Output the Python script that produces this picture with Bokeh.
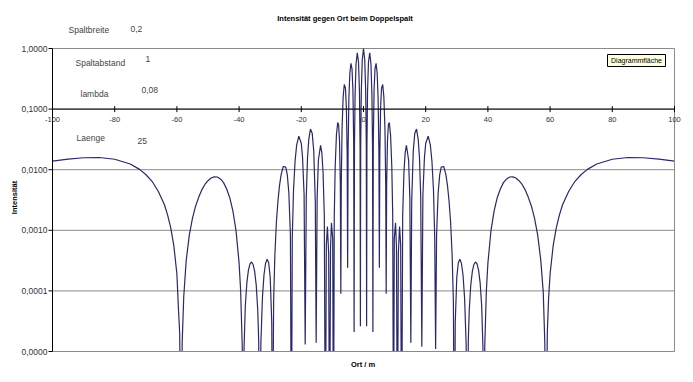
from math import pi
from bokeh.plotting import figure
from bokeh.models import Range1d
from bokeh.core.properties import value
from bokeh.embed import file_html
from bokeh.resources import INLINE

# ---- data (Ort / m, Intensität) ----
ort_links = [
    -100, -95, -90, -85, -80, -75, -72, -70, -68, -66,
    -64, -63, -62, -61, -60, -59.5, -59.1, -58.69, -58.3, -57.8,
    -57, -56, -55, -54, -53, -52, -51, -50, -49, -48,
    -47, -46, -45, -44, -43, -42, -41, -40, -39.5, -39,
    -38.7, -38.4, -38, -37.5, -37, -36.5, -36, -35.5, -35, -34.5,
    -34, -33.7, -33.33, -33, -32.5, -32, -31.5, -31, -30.5, -30,
    -29.5, -29.23, -28.9, -28.5, -28, -27.5, -27, -26.5, -25.8, -25,
    -24.5, -24, -23.5, -23.19, -22.9, -22.5, -22, -21.5, -20.8, -20,
    -19.6, -19.1, -18.75, -18.4, -18, -17.6, -17.05, -16.5, -16, -15.5,
    -15.22, -14.9, -14.5, -13.8, -13.4, -13, -12.6, -12.25, -11.95, -11.6,
    -11.2, -10.91, -10.6, -10.3, -9.9, -9.65, -9.4, -9.1, -8.7, -8.3,
    -8, -7.7, -7.45, -7.29, -7.15, -6.9, -6.55, -6.18, -5.8, -5.5,
    -5.25, -5.1, -4.95, -4.7, -4.4, -4.05, -3.7, -3.4, -3.15, -3.02,
    -2.9, -2.7, -2.4, -2, -1.6, -1.3, -1.1, -1, -0.9, -0.7,
    -0.4,
]
int_links = [
    0.0139, 0.01497, 0.01576, 0.0159, 0.01488, 0.01244, 0.01012, 0.00833, 0.00644, 0.0044,
    0.00264, 0.0018, 0.00111, 0.000565, 0.00019, 5e-5, 2e-5, 1e-7, 1.4e-5, 8e-5,
    0.000322, 0.00084, 0.00157, 0.0025, 0.0035, 0.00464, 0.0057, 0.00659, 0.0073, 0.00762,
    0.00758, 0.00703, 0.00612, 0.00481, 0.00345, 0.00209, 0.001, 0.000287, 0.0001, 1.27e-5,
    1e-7, 1.2e-5, 5.7e-5, 0.000137, 0.00022, 0.00028, 0.0003, 0.000273, 0.00021, 0.000126,
    4.8e-5, 1.5e-5, 1e-7, 1.35e-5, 7.7e-5, 0.000183, 0.000283, 0.000333, 0.000294, 0.000169,
    3e-5, 1e-7, 6.7e-5, 0.000388, 0.00138, 0.00308, 0.00552, 0.00823, 0.0113, 0.011,
    0.00823, 0.00413, 0.00084, 1e-7, 0.000755, 0.00468, 0.01388, 0.02537, 0.0358, 0.0271,
    0.016, 0.0039, 1.3e-5, 0.00354, 0.0158, 0.0314, 0.0468, 0.0401, 0.0204, 0.003,
    1.4e-5, 0.0035, 0.01444, 0.0253, 0.0192, 0.009, 0.00175, 1e-7, 0.000577, 0.00115,
    0.000413, 1e-7, 0.00052, 0.00133, 0.00073, 1e-7, 0.00171, 0.0113, 0.0376, 0.06,
    0.055, 0.029, 0.0058, 9e-5, 0.0056, 0.0472, 0.1576, 0.255, 0.2212, 0.1051,
    0.0183, 0.00024, 0.0211, 0.1497, 0.3876, 0.57, 0.4668, 0.2067, 0.0271, 2.1e-5,
    0.0259, 0.175, 0.555, 0.85, 0.597, 0.1926, 0.0234, 2.6e-5, 0.0238, 0.2025,
    0.651,
]
ort_rechts = [
    0, 0.4, 0.7, 0.9, 1.0, 1.1, 1.3, 1.6, 2.0, 2.4,
    2.7, 2.9, 3.02, 3.15, 3.4, 3.7, 4.05, 4.4, 4.7, 4.95,
    5.1, 5.25, 5.5, 5.8, 6.18, 6.55, 6.9, 7.15, 7.29, 7.45,
    7.7, 8.0, 8.3, 8.7, 9.1, 9.4, 9.65, 9.9, 10.3, 10.6,
    10.91, 11.2, 11.6, 11.95, 12.25, 12.6, 13.0, 13.4, 13.8, 14.5,
    14.9, 15.22, 15.5, 16.0, 16.5, 17.05, 17.6, 18.0, 18.4, 18.75,
    19.1, 19.6, 20.0, 20.8, 21.5, 22.0, 22.5, 22.9, 23.19, 23.5,
    24.0, 24.5, 25.0, 25.8, 26.5, 27.0, 27.5, 28.0, 28.5, 28.9,
    29.23, 29.5, 30.0, 30.5, 31.0, 31.5, 32.0, 32.5, 33.0, 33.33,
    33.7, 34.0, 34.5, 35.0, 35.5, 36.0, 36.5, 37.0, 37.5, 38.0,
    38.4, 38.7, 39.0, 39.5, 40.0, 41.0, 42.0, 43.0, 44.0, 45.0,
    46.0, 47.0, 48.0, 49.0, 50.0, 51.0, 52.0, 53.0, 54.0, 55.0,
    56.0, 57.0, 57.8, 58.3, 58.69, 59.1, 59.5, 60.0, 61.0, 62.0,
    63.0, 64.0, 66.0, 68.0, 70.0, 72.0, 75.0, 80.0, 85.0, 90.0,
    95.0, 100.0,
]
int_rechts = [
    1.0, 0.651, 0.2025, 0.0238, 2.6e-5, 0.0234, 0.1926, 0.597, 0.85, 0.555,
    0.175, 0.0259, 2.1e-5, 0.0271, 0.2067, 0.4668, 0.57, 0.3876, 0.1497, 0.0211,
    0.00024, 0.0183, 0.1051, 0.2212, 0.255, 0.1576, 0.0472, 0.0056, 9e-5, 0.0058,
    0.029, 0.055, 0.06, 0.0376, 0.0113, 0.00171, 1e-7, 0.00073, 0.00133, 0.00052,
    1e-7, 0.000413, 0.00115, 0.000577, 1e-7, 0.00175, 0.009, 0.0192, 0.0253, 0.01444,
    0.0035, 1.4e-5, 0.003, 0.0204, 0.0401, 0.0468, 0.0314, 0.0158, 0.00354, 1.2e-5,
    0.0039, 0.016, 0.0271, 0.0358, 0.02537, 0.01388, 0.00468, 0.000755, 1.1e-5, 0.00084,
    0.00413, 0.00823, 0.011, 0.0113, 0.00823, 0.00552, 0.00308, 0.00138, 0.000388, 6.7e-5,
    1e-7, 3e-5, 0.000169, 0.000294, 0.000333, 0.000283, 0.000183, 7.7e-5, 1.35e-5, 1e-7,
    1.5e-5, 4.8e-5, 0.000126, 0.00021, 0.000273, 0.0003, 0.00028, 0.00022, 0.000137, 5.7e-5,
    1.2e-5, 1e-7, 1.27e-5, 0.0001, 0.000287, 0.001, 0.00209, 0.00345, 0.00481, 0.00612,
    0.00703, 0.00758, 0.00762, 0.0073, 0.00659, 0.0057, 0.00464, 0.0035, 0.0025, 0.00157,
    0.00084, 0.000322, 9.5e-5, 1.4e-5, 1e-7, 2e-5, 7.2e-5, 0.00019, 0.000565, 0.00111,
    0.0018, 0.00264, 0.0044, 0.00644, 0.00833, 0.01012, 0.01244, 0.01488, 0.0159, 0.01576,
    0.01497, 0.0139,
]

y_ticks = [1e-5, 1e-4, 1e-3, 1e-2, 1e-1, 1.0]
y_tick_labels = ["0,0000", "0,0001", "0,0010", "0,0100", "0,1000", "1,0000"]
x_ticks = [-100, -80, -60, -40, -20, 0, 20, 40, 60, 80, 100]
x_tick_labels = ["-100", "-80", "-60", "-40", "-20", "0", "20", "40", "60", "80", "100"]
x_min, x_max = -100, 100
y_min, y_max = 1e-5, 1.0
x_achse_bei = 0.1

parameter_namen = ["Spaltbreite", "Spaltabstand", "lambda", "Laenge"]
parameter_werte = ["0,2", "1", "0,08", "25"]

titel = "Intensität gegen Ort beim Doppelspalt"
x_titel = "Ort / m"
y_titel = "Intensität"

FONT = value("Liberation Sans")
W, H = 685, 374

# picture-pixel -> data helpers (plot area spans x 52..674, y 48..351 in picture pixels)
def x_px(xw):
    return x_min + (xw - 52) * (x_max - x_min) / 622.0

def y_px(yw):
    return 10 ** (-(yw - 48) * 5.0 / 303.0)

# whole canvas is the frame; the plot area is drawn inside it
p = figure(width=W, height=H,
           x_range=Range1d(x_px(0), x_px(W)),
           y_range=Range1d(y_px(H), y_px(0)),
           y_axis_type="log", x_axis_location=None, y_axis_location=None,
           output_backend="svg", toolbar_location=None, min_border=0)
p.background_fill_color = "white"
p.border_fill_color = "white"
p.outline_line_color = None
p.grid.visible = False

GRID = "#8a8a8a"
n = len(y_ticks)
# horizontal gridlines
p.segment(x0=[x_min] * n, x1=[x_max] * n, y0=y_ticks, y1=y_ticks,
          line_color=GRID, line_width=1)

# curve
p.line(ort_links + ort_rechts, int_links + int_rechts,
       line_color="#28286a", line_width=1.2)

# hide whatever falls below the plot area
p.quad(left=[x_px(0)], right=[x_px(W)], bottom=[y_px(H)], top=[y_min],
       fill_color="white", line_color=None)
p.segment(x0=[x_min], x1=[x_max], y0=[y_min], y1=[y_min], line_color=GRID, line_width=1)

# plot area borders
p.segment(x0=[x_max], x1=[x_max], y0=[y_min], y1=[y_max], line_color=GRID, line_width=1)
p.segment(x0=[x_min], x1=[x_min], y0=[y_min], y1=[y_max], line_color="black", line_width=1)
# y ticks
p.segment(x0=[x_px(48)] * n, x1=[x_min] * n, y0=y_ticks, y1=y_ticks,
          line_color="black", line_width=1)
p.text(x=[x_min] * n, y=y_ticks, text=y_tick_labels, x_offset=-5,
       text_align="right", text_baseline="middle", text_font=FONT,
       text_font_size=value("8.5px"), text_color="#333333")

# x axis through 0.1
p.segment(x0=[x_min], x1=[x_max], y0=[x_achse_bei], y1=[x_achse_bei],
          line_color="black", line_width=1)
m = len(x_ticks)
p.scatter(x_ticks, [x_achse_bei] * m, marker="dash", angle=pi / 2, size=6,
          line_color="black")
p.text(x=x_ticks, y=[y_px(119)] * m, text=x_tick_labels,
       text_align="center", text_baseline="middle", text_font=FONT,
       text_font_size=value("7.5px"), text_color="#333333")

def txt(xw, yw, s, size="8.5px", bold=False, align="left", color="#444444", angle=0.0):
    p.text(x=[x_px(xw)], y=[y_px(yw)], text=[s], text_font=FONT,
           text_font_size=value(size),
           text_font_style="bold" if bold else "normal",
           text_align=align, text_baseline="middle",
           text_color=color, angle=angle)

txt(344.5, 18, titel, size="7.5px", bold=True, align="center", color="black")
txt(362.5, 364, x_titel, size="7.5px", bold=True, align="center", color="black")
txt(14, 197, y_titel, size="7.5px", bold=True, align="center", color="black", angle=pi / 2)

name_pos = [(68, 29), (75, 62), (80, 93), (76, 137)]
wert_pos = [(130, 28), (145, 58), (141, 89), (137, 140)]
for (nx, ny), nm in zip(name_pos, parameter_namen):
    txt(nx, ny, nm)
for (wx, wy), w in zip(wert_pos, parameter_werte):
    txt(wx, wy, w)

# "Diagrammfläche" tooltip box
p.quad(left=[x_px(607)], right=[x_px(665)], bottom=[y_px(66)], top=[y_px(54)],
       fill_color="#ffffe1", line_color="black", line_width=1)
txt(636, 60, "Diagrammfläche", size="7px", align="center", color="black")

open("out.html", "w").write(file_html(p, INLINE))
